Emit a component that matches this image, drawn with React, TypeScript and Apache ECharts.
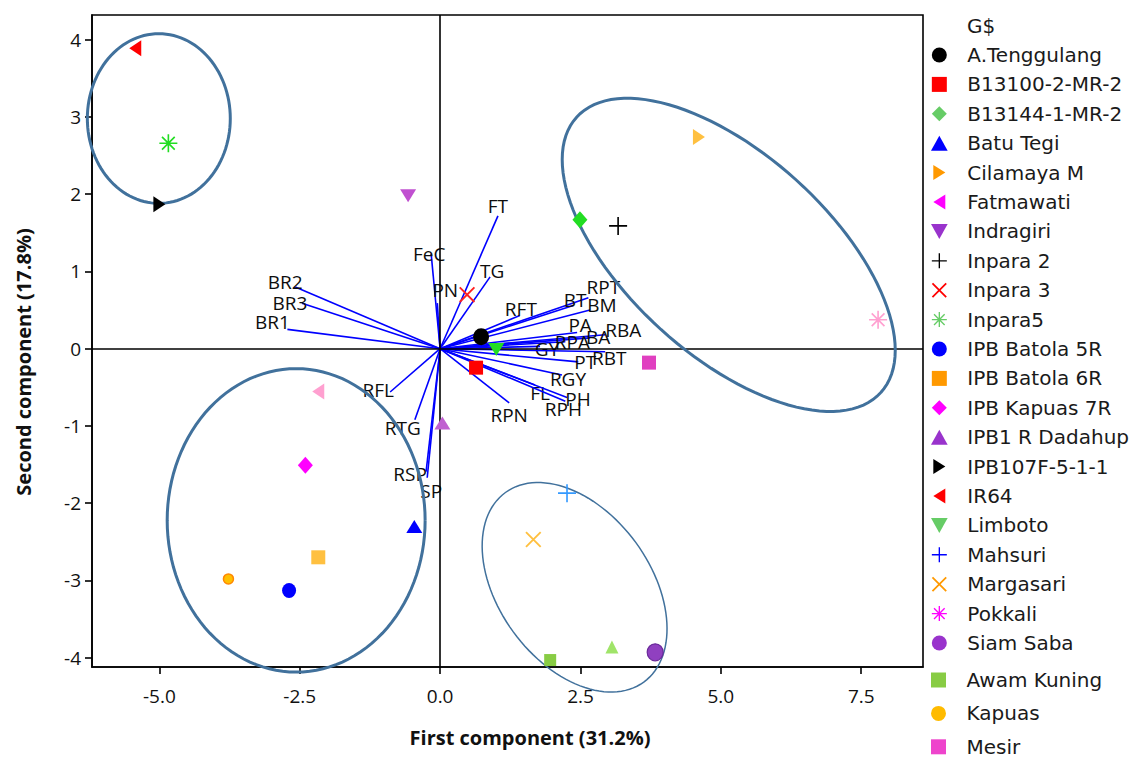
import React, { useEffect, useRef } from "react";
import * as echarts from "echarts";

// ---------- data ----------
const GENOTYPES = [
  "A.Tenggulang", "B13100-2-MR-2", "B13144-1-MR-2", "Batu Tegi", "Cilamaya M", "Fatmawati",
  "Indragiri", "Inpara 2", "Inpara 3", "Inpara5", "IPB Batola 5R", "IPB Batola 6R",
  "IPB Kapuas 7R", "IPB1 R Dadahup", "IPB107F-5-1-1", "IR64", "Limboto", "Mahsuri",
  "Margasari", "Pokkali", "Siam Saba", "Awam Kuning", "Kapuas", "Mesir",
];
const GENO_PC1 = [0.73, 0.64, 2.49, -0.46, 4.61, -2.17, -0.57, 3.17, 0.48, -4.84, -2.69, -2.17,
  -2.4, 0.04, -5.0, -5.43, 1.0, 2.26, 1.66, 7.8, 3.83, 1.96, -3.77, 3.72];
const GENO_PC2 = [0.155, -0.245, 1.67, -2.3, 2.74, -0.555, 1.98, 1.59, 0.7, 2.66, -3.13, -2.7,
  -1.51, -0.96, 1.87, 3.89, -0.01, -1.87, -2.47, 0.375, -3.93, -4.03, -2.98, -0.18];
// an extra plotted point that has no legend entry
const EXTRA_PC1 = [3.06];
const EXTRA_PC2 = [-3.86];

const VARIABLES = ["FT", "FeC", "PN", "TG", "RFT", "RPT", "BT", "BM", "PA", "RBA", "BA", "RPA", "GY",
  "RBT", "PT", "RGY", "FL", "PH", "RPH", "RPN", "RFL", "RTG", "RSP", "SP", "BR2", "BR3", "BR1"];
const VAR_PC1 = [1.03, -0.16, -0.05, 0.89, 1.42, 2.64, 2.37, 2.67, 2.44, 2.94, 2.67, 2.23, 1.78,
  2.94, 2.46, 2.17, 1.69, 2.26, 2.23, 1.23, -0.89, -0.45, -0.25, -0.23, -2.58, -2.46, -2.72];
const VAR_PC2 = [1.72, 1.23, 0.59, 0.93, 0.43, 0.66, 0.56, 0.5, 0.21, 0.18, 0.14, 0.09, 0.03,
  -0.04, -0.17, -0.34, -0.47, -0.63, -0.68, -0.7, -0.56, -0.92, -1.59, -1.67, 0.8, 0.59, 0.25];

// ellipse: centre x, centre y, semi-axis u (x,y), semi-axis v (x,y), in data units
const ELLIPSE_CX = [-5.01, 5.14, -2.564, 2.395];
const ELLIPSE_CY = [2.98, 1.215, -2.222, -3.088];
const ELLIPSE_UX = [1.273, 2.709, 2.297, 1.232];
const ELLIPSE_UY = [0, -1.782, 0, -1.227];
const ELLIPSE_VX = [0, -1.207, 0, -1.092];
const ELLIPSE_VY = [1.098, -0.966, 1.964, -0.5775];

const X_TICKS = [-5, -2.5, 0, 2.5, 5, 7.5];
const Y_TICKS = [-4, -3, -2, -1, 0, 1, 2, 3, 4];

// ---------- styles / layout ----------
const LABEL_OFFSETS = [[0, -10], [-2, 0], [8, -13], [2, -6], [1, -7], [15, -11], [2, -5], [12, -5],
  [3, -8], [18, -5], [8, -1], [7, 0], [7, 3], [4, 6], [7, 0], [6, 4], [5, 8], [11, 2], [-2, 8],
  [0, 12], [-12, -2], [-12, 8], [-16, 2], [4, 13], [-10, -5], [-12, 0], [-15, -7]];
const ELLIPSE_WIDTHS = [3, 3, 3, 1.5];

function bar(angle: number) {
  const c = 10, L = 10, t = 0.9;
  const dx = Math.cos(angle), dy = Math.sin(angle);
  const nx = -dy, ny = dx;
  const p = [
    [c + L * dx + t * nx, c + L * dy + t * ny],
    [c - L * dx + t * nx, c - L * dy + t * ny],
    [c - L * dx - t * nx, c - L * dy - t * ny],
    [c + L * dx - t * nx, c + L * dy - t * ny],
  ];
  return "M" + p.map((q) => q[0].toFixed(2) + "," + q[1].toFixed(2)).join("L") + "Z";
}

const SHAPES: Record<string, string> = {
  circle: "path://M10,0A10,10,0,1,1,10,20A10,10,0,1,1,10,0Z",
  square: "path://M0,0H20V20H0Z",
  diamond: "path://M10,0L20,10L10,20L0,10Z",
  triUp: "path://M10,0L20,18L0,18Z",
  triRight: "path://M0,0L16,10L0,20Z",
  triLeft: "path://M16,0L0,10L16,20Z",
  triDown: "path://M0,0H20L10,18Z",
  plus: "path://" + bar(0) + bar(Math.PI / 2),
  cross: "path://" + bar(Math.PI / 4) + bar(-Math.PI / 4),
  aster: "path://" + bar(0) + bar(Math.PI / 2) + bar(Math.PI / 4) + bar(-Math.PI / 4),
};

const SYMS = ["circle", "square", "diamond", "triUp", "triRight", "triLeft", "triDown", "plus",
  "cross", "aster", "circle", "square", "diamond", "triUp", "triRight", "triLeft", "triDown", "plus",
  "cross", "aster", "circle", "square", "circle", "square"];
const SIZES: Record<string, number[]> = {
  circle: [16, 17], square: [14, 14], diamond: [15, 17], triUp: [16, 13], triRight: [12, 16],
  triLeft: [12, 16], triDown: [16, 13], plus: [18, 18], cross: [16, 16], aster: [18, 18],
};
const CHART_COLORS = ["#000000", "#ff0000", "#22dd22", "#0000ff", "#ffc040", "#ffa0d0", "#c050d0",
  "#000000", "#ff2020", "#22dd22", "#0000ff", "#ffc040", "#ff00ff", "#c060d0", "#000000", "#ff0000",
  "#22dd22", "#3399ff", "#ffc040", "#ffa0d0", "#9040c0", "#88cc44", "#ffc000", "#e040c0"];
const LEGEND_COLORS = ["#000000", "#ff0000", "#66cc66", "#0000ff", "#ff9900", "#ff00ff", "#9933cc",
  "#000000", "#ff0000", "#66cc66", "#0000ff", "#ff9900", "#ff00ff", "#9933cc", "#000000", "#ff0000",
  "#66cc66", "#0000ff", "#ff9900", "#ff00ff", "#9933cc", "#88cc44", "#ffbb00", "#ee44cc"];

const TXT = "#111111";

export default function App() {
  const ref = useRef<HTMLDivElement>(null);
  useEffect(() => {
    const chart = echarts.init(ref.current!, null, { renderer: "svg" });

    const scatterSeries = GENOTYPES.map((name, i) => {
      const sym = SYMS[i];
      let size = SIZES[sym];
      if (name === "Kapuas") size = [10, 10];
      if (name === "Awam Kuning") size = [12, 12];
      if (name === "IPB Batola 5R") size = [14, 15];
      const itemStyle: any = { color: CHART_COLORS[i], opacity: 1 };
      if (name === "Kapuas") { itemStyle.borderColor = "#ff8800"; itemStyle.borderWidth = 1.5; }
      if (name === "Siam Saba") { itemStyle.borderColor = "#6a2a9a"; itemStyle.borderWidth = 1.2; }
      return {
        type: "scatter",
        name,
        z: 6,
        symbol: SHAPES[sym],
        symbolSize: size,
        itemStyle,
        emphasis: { disabled: true },
        data: [[GENO_PC1[i], GENO_PC2[i]]],
      };
    });

    const extraSeries = {
      type: "scatter",
      name: "extra",
      z: 6,
      symbol: SHAPES.triUp,
      symbolSize: [13, 13],
      itemStyle: { color: "#88dd44" },
      data: EXTRA_PC1.map((x, i) => [x, EXTRA_PC2[i]]),
    };

    const zeroLines = {
      type: "line",
      name: "zero",
      data: [],
      z: 2,
      markLine: {
        silent: true,
        symbol: "none",
        animation: false,
        label: { show: false },
        lineStyle: { color: "#000", width: 1.6, type: "solid" },
        data: [{ xAxis: 0 }, { yAxis: 0 }],
      },
    };

    const vectorSeries = {
      type: "custom",
      name: "vectors",
      z: 4,
      clip: false,
      data: VARIABLES.map((_, i) => [VAR_PC1[i], VAR_PC2[i]]),
      renderItem: (params: any, api: any) => {
        const i = params.dataIndex;
        const o = api.coord([0, 0]);
        const e = api.coord([api.value(0), api.value(1)]);
        const off = LABEL_OFFSETS[i];
        return {
          type: "group",
          children: [
            {
              type: "line",
              shape: { x1: o[0], y1: o[1], x2: e[0], y2: e[1] },
              style: { stroke: "#0000ff", lineWidth: 1.6 },
            },
            {
              type: "text",
              x: e[0] + off[0],
              y: e[1] + off[1],
              style: {
                text: VARIABLES[i],
                fill: "#0d0d0d",
                font: '19px "Open Sans"',
                align: "center",
                verticalAlign: "middle",
              },
            },
          ],
        };
      },
    };

    const ellipseSeries = {
      type: "custom",
      name: "ellipses",
      z: 5,
      clip: false,
      data: ELLIPSE_CX.map((cx, i) => [cx, ELLIPSE_CY[i], ELLIPSE_UX[i], ELLIPSE_UY[i], ELLIPSE_VX[i], ELLIPSE_VY[i]]),
      renderItem: (params: any, api: any) => {
        const i = params.dataIndex;
        const cx = api.value(0), cy = api.value(1);
        const ux = api.value(2), uy = api.value(3), vx = api.value(4), vy = api.value(5);
        const pts: number[][] = [];
        const N = 120;
        for (let k = 0; k <= N; k++) {
          const a = (2 * Math.PI * k) / N;
          const c = Math.cos(a), s = Math.sin(a);
          pts.push(api.coord([cx + ux * c + vx * s, cy + uy * c + vy * s]));
        }
        return {
          type: "polyline",
          shape: { points: pts },
          style: { stroke: "#41719c", lineWidth: ELLIPSE_WIDTHS[i], fill: "none" },
        };
      },
    };

    const legendItem = (i: number) => ({
      name: GENOTYPES[i],
      icon: SHAPES[SYMS[i]],
      itemStyle: { color: LEGEND_COLORS[i], borderWidth: 0 },
    });

    const legendCommon = {
      orient: "vertical",
      left: 931,
      padding: 0,
      itemWidth: 46,
      itemHeight: 15,
      symbolKeepAspect: true,
      selectedMode: false,
      textStyle: { fontFamily: "DejaVu Sans", fontSize: 20, color: "#1a1a1a", lineHeight: 20 },
    };

    const option: any = {
      animation: false,
      backgroundColor: "#ffffff",
      grid: {
        left: 92,
        right: 206,
        top: 15,
        bottom: 91,
        show: true,
        borderColor: "#000",
        borderWidth: 1.6,
        backgroundColor: "transparent",
      },
      xAxis: {
        type: "value",
        min: -6.2,
        max: 8.6,
        axisLine: { show: true, onZero: false, lineStyle: { color: "#000", width: 1.6 } },
        axisTick: { show: true, length: 7, customValues: X_TICKS, lineStyle: { color: "#000", width: 1.6 } },
        axisLabel: {
          customValues: X_TICKS,
          formatter: (v: number) => v.toFixed(1),
          fontFamily: "Open Sans",
          fontSize: 19,
          color: TXT,
          margin: 19,
        },
        splitLine: { show: false },
      },
      yAxis: {
        type: "value",
        min: -4.12,
        max: 4.32,
        axisLine: { show: true, onZero: false, lineStyle: { color: "#000", width: 1.6 } },
        axisTick: { show: true, length: 7, customValues: Y_TICKS, lineStyle: { color: "#000", width: 1.6 } },
        axisLabel: {
          customValues: Y_TICKS,
          formatter: (v: number) => String(Math.round(v)),
          fontFamily: "Open Sans",
          fontSize: 19,
          color: TXT,
          margin: 11,
        },
        splitLine: { show: false },
      },
      legend: [
        { ...legendCommon, top: 45, itemGap: 9.4, data: GENOTYPES.slice(0, 21).map((_, i) => legendItem(i)) },
        { ...legendCommon, top: 670, itemGap: 13.4, data: [21, 22, 23].map((i) => legendItem(i)) },
      ],
      graphic: [
        {
          type: "text",
          left: 967,
          top: 16,
          style: { text: "G$", font: '20px "DejaVu Sans"', fill: "#1a1a1a" },
        },
        {
          type: "text",
          x: 530,
          y: 737,
          style: {
            text: "First component (31.2%)",
            font: 'bold 20px "Open Sans"',
            fill: TXT,
            align: "center",
            verticalAlign: "middle",
          },
        },
        {
          type: "text",
          x: 23,
          y: 362,
          rotation: Math.PI / 2,
          style: {
            text: "Second component (17.8%)",
            font: 'bold 20px "Open Sans"',
            fill: TXT,
            align: "center",
            verticalAlign: "middle",
          },
        },
      ],
      series: [zeroLines, vectorSeries, ellipseSeries, extraSeries, ...scatterSeries],
    };

    chart.setOption(option);
    return () => chart.dispose();
  }, []);

  return (
    <div
      ref={ref}
      style={{ position: "fixed", left: 0, top: 0, width: 1129, height: 758, background: "#fff" }}
    />
  );
}
